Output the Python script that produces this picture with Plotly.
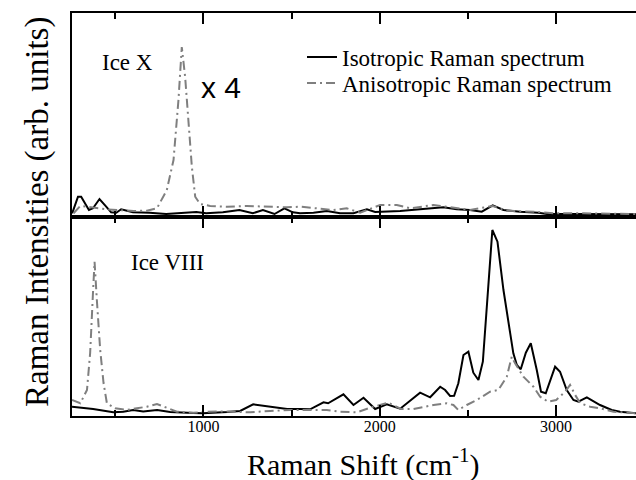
import plotly.graph_objects as go

# ---- data (Raman shift in cm^-1, intensity in arb. units) ----
# Ice X, isotropic
iceX_iso_x = [255, 288, 306, 350, 373, 410, 448, 476, 505, 533, 600, 694, 788, 883, 959, 1015,
              1110, 1204, 1280, 1337, 1403, 1459, 1507, 1548, 1624, 1700, 1775, 1851, 1927, 1974,
              2040, 2116, 2229, 2361, 2437, 2512, 2579, 2641, 2702, 2796, 2900, 2948, 3061, 3250, 3454]
iceX_iso_y = [3.7, 20.3, 20.3, 7, 8.7, 18, 10.3, 4.7, 4.3, 7.7, 4.7, 4.3, 3, 4.3, 5, 3.7,
              4.7, 7, 3.7, 7, 3, 8.7, 4.7, 3.7, 4.3, 6, 3.7, 3.7, 7.7, 5,
              5.3, 6, 7.7, 9.7, 7.7, 7, 5.3, 11.7, 7, 5.3, 4.3, 3, 3, 3, 2.7]
# Ice X, anisotropic (x 4)
iceX_aniso_x = [263, 301, 339, 395, 452, 509, 603, 679, 736, 792, 830, 858, 877, 896, 915, 934,
                953, 981, 1038, 1133, 1246, 1360, 1473, 1548, 1662, 1737, 1813, 1889, 2002, 2097,
                2172, 2305, 2381, 2512, 2641, 2721, 2872, 2985, 3155, 3454]
iceX_aniso_y = [3.7, 11, 10.3, 8.7, 7.7, 7, 6, 6.3, 8.7, 27, 57, 117, 170, 140, 93.7, 50.3,
                20.3, 13, 11, 10.3, 11, 10.3, 9.7, 10.3, 8.7, 7, 8.7, 4.3, 12, 12,
                8.7, 12, 10.3, 7, 11, 6.3, 5.3, 3.7, 3.7, 3]
# Ice VIII, isotropic
iceVIII_iso_x = [254, 374, 488, 545, 601, 658, 737, 811, 942, 998, 1134, 1208, 1282, 1361, 1475,
                 1548, 1605, 1681, 1707, 1794, 1851, 1908, 1974, 2040, 2116, 2229, 2286, 2343,
                 2371, 2399, 2422, 2446, 2475, 2503, 2531, 2560, 2585, 2639, 2668, 2702, 2758,
                 2778, 2800, 2829, 2857, 2891, 2915, 2942, 2995, 3023, 3061, 3099, 3127, 3175,
                 3250, 3316, 3363, 3454]
iceVIII_iso_y = [9.3, 7, 3.7, 4.3, 6, 4.5, 6, 4, 3, 2.7, 4, 5, 11.7, 10, 7,
                 7, 6.7, 13.7, 12.7, 21.7, 11, 18.3, 7, 11.7, 7.3, 23.3, 18.7, 29.3,
                 26, 20, 20.3, 32.7, 61, 64.3, 43.3, 36, 54.3, 186, 174.3, 126, 62.7,
                 51, 46.7, 63.3, 72.7, 46, 24.3, 22.7, 49.3, 44.3, 26, 16, 14.3, 18.7,
                 11, 6, 4.3, 2.7]
# Ice VIII, anisotropic
iceVIII_aniso_x = [254, 301, 339, 357, 373, 382, 395, 414, 433, 452, 499, 566, 622, 679, 736, 773,
                   849, 943, 1019, 1133, 1265, 1378, 1492, 1605, 1700, 1775, 1870, 1964, 2048,
                   2122, 2191, 2305, 2381, 2418, 2446, 2494, 2551, 2626, 2673, 2721, 2749, 2768,
                   2815, 2872, 2910, 2955, 3001, 3052, 3080, 3109, 3137, 3194, 3250, 3326, 3454]
iceVIII_aniso_y = [16, 12.7, 26, 63, 123, 154.3, 116, 66, 33, 12.7, 7.7, 6, 7.7, 9.3, 12, 9.3,
                   4.3, 3.3, 4.3, 4.5, 3.7, 5, 6, 6, 6, 4.3, 3.7, 9.3, 13.3,
                   7, 7, 11, 12.7, 11, 6, 11, 16, 24.3, 26, 39.3, 59.3, 52.7,
                   39.3, 29.3, 19.3, 14.3, 16, 24.3, 31, 21, 12.7, 9.3, 7.7, 4.3, 2.7]

x_ticks = [1000, 2000, 3000]
series_names = ["Isotropic Raman spectrum", "Anisotropic Raman spectrum"]
panel_labels = ["Ice X", "Ice VIII"]
scale_label = "x 4"

SERIF = "Liberation Serif"
SANS = "Liberation Sans"
GRAY = "#7f7f7f"
DASH = "9px,4px,2px,4px"

fig = go.Figure()
fig.add_trace(go.Scatter(x=iceX_iso_x, y=iceX_iso_y, mode="lines", xaxis="x2", yaxis="y2",
                         line=dict(color="black", width=2), name=series_names[0], legend="legend"))
fig.add_trace(go.Scatter(x=iceX_aniso_x, y=iceX_aniso_y, mode="lines", xaxis="x2", yaxis="y2",
                         line=dict(color=GRAY, width=2, dash=DASH), name=series_names[1],
                         legend="legend2"))
fig.add_trace(go.Scatter(x=iceVIII_iso_x, y=iceVIII_iso_y, mode="lines", xaxis="x", yaxis="y",
                         line=dict(color="black", width=2), showlegend=False))
fig.add_trace(go.Scatter(x=iceVIII_aniso_x, y=iceVIII_aniso_y, mode="lines", xaxis="x", yaxis="y",
                         line=dict(color=GRAY, width=2, dash=DASH), showlegend=False))

split = 199 / 403
xcommon = dict(range=[254, 3454], showline=True, linecolor="black", linewidth=2, mirror="allticks",
               ticks="inside", ticklen=11, tickwidth=1.5, tickcolor="black",
               tickvals=x_ticks, showgrid=False, zeroline=False,
               minor=dict(tickvals=[500, 1500, 2500], ticks="inside", ticklen=6, tickwidth=1.5,
                          tickcolor="black", showgrid=False),
               tickfont=dict(family=SERIF, size=16, color="black"))
legfont = dict(family=SERIF, size=23, color="black")
fig.update_layout(
    width=636, height=480,
    margin=dict(l=72, r=0, t=13, b=64),
    paper_bgcolor="white", plot_bgcolor="white",
    xaxis=dict(**xcommon, anchor="y", domain=[0, 1], showticklabels=True, ticklabelstandoff=-5),
    xaxis2=dict(**xcommon, anchor="y2", domain=[0, 1], matches="x", showticklabels=False),
    yaxis=dict(domain=[0, split], range=[0, 199], showline=True, linecolor="black", linewidth=2,
               mirror=False, showticklabels=False, ticks="", showgrid=False, zeroline=False),
    yaxis2=dict(domain=[split, 1], range=[0, 204], showline=True, linecolor="black", linewidth=2,
                mirror=False, showticklabels=False, ticks="", showgrid=False, zeroline=False),
    legend=dict(x=(302 - 72) / 564, y=(416 - 57) / 403, xanchor="left", yanchor="middle",
                bgcolor="rgba(0,0,0,0)", font=legfont),
    legend2=dict(x=(302 - 72) / 564, y=(416 - 83) / 403, xanchor="left", yanchor="middle",
                 bgcolor="rgba(0,0,0,0)", font=legfont),
    showlegend=True,
)

ann = [
    dict(text=panel_labels[0], x=414, y=217 - 62, xref="x2", yref="y2", xanchor="left",
         yanchor="middle", showarrow=False, font=dict(family=SERIF, size=23, color="black")),
    dict(text=scale_label, x=976, y=217 - 87, xref="x2", yref="y2", xanchor="left",
         yanchor="middle", showarrow=False,
         font=dict(family=SANS, size=30, color="black")),
    dict(text=panel_labels[1], x=579, y=416 - 262, xref="x", yref="y", xanchor="left",
         yanchor="middle", showarrow=False, font=dict(family=SERIF, size=23, color="black")),
    dict(text="Raman Intensities (arb. units)", x=(37 - 72) / 564, y=(416 - 212) / 403,
         xref="paper", yref="paper", textangle=-90, showarrow=False,
         xanchor="center", yanchor="middle", font=dict(family=SERIF, size=33, color="black")),
    dict(text="Raman Shift (cm<sup>-1</sup>)", x=(362.5 - 72) / 564, y=(416 - 462) / 403,
         xref="paper", yref="paper", showarrow=False, xanchor="center", yanchor="middle",
         font=dict(family=SERIF, size=30, color="black")),
]
fig.update_layout(annotations=ann)

fig.write_html("out.html")
